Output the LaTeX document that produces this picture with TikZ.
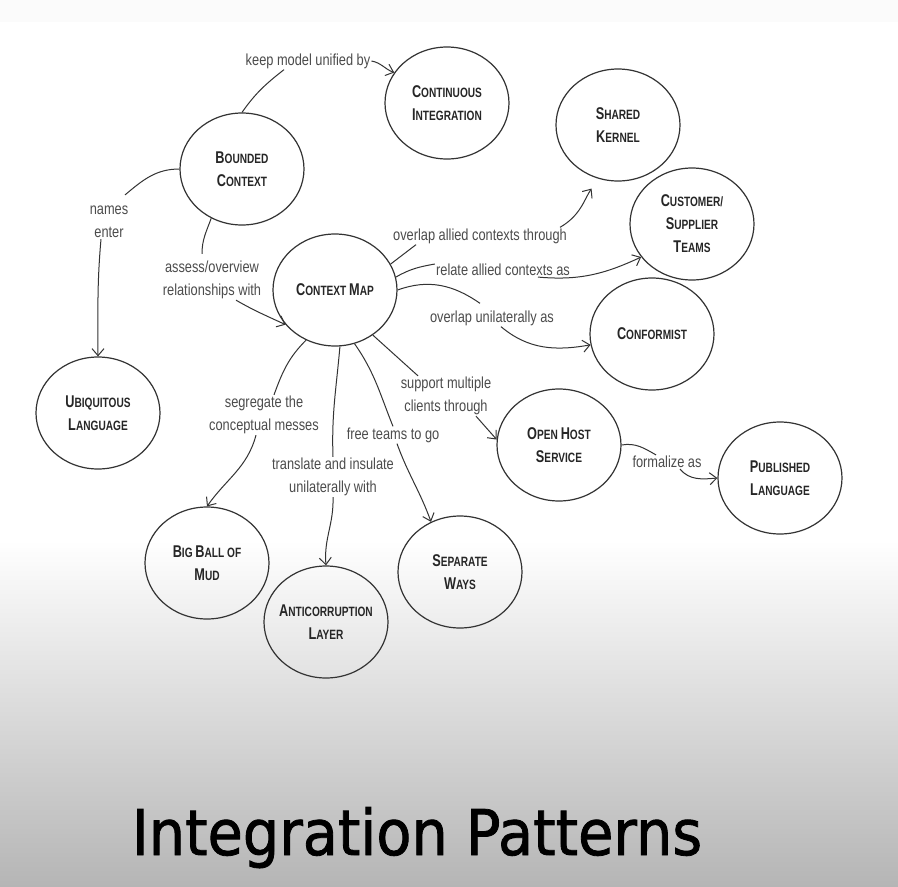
\documentclass[tikz,border=0pt]{standalone}
\usepackage{fontspec}
\usetikzlibrary{shapes.geometric,arrows.meta}

\newfontfamily\nodefont[FakeStretch=0.75]{Liberation Sans}
\newfontfamily\lblfont[FakeStretch=0.8]{Liberation Sans}
\newfontfamily\titlefont[FakeStretch=0.91,FakeBold=1.3]{DejaVu Sans}

% fake small caps: big first letter, small capitals after it
\newcommand\pc[2]{{\fontsize{17}{23}\selectfont #1}\MakeUppercase{#2}}

\begin{document}
\begin{tikzpicture}[x=1pt,y=1pt,
    ctx/.style={ellipse, draw=black!80, line width=1.2pt, minimum width=124pt,
      minimum height=112pt, inner sep=-8pt, align=center, text=black!85,
      font=\nodefont\bfseries\fontsize{13.5}{23}\selectfont},
    lbl/.style={inner sep=1pt, align=center, text=black!70,
      font=\lblfont\fontsize{16}{23}\selectfont},
    link/.style={draw=black!80, line width=1pt},
    arr/.style={link, -{Straight Barb[length=7pt,width=12pt]}}]

    % Fix the page and paint the background
    \useasboundingbox (0,0) rectangle (898,-887);
    \fill[white] (0,0) rectangle (898,-887);
    \fill[black!1.5] (0,0) rectangle (898,-22);
    \shade[top color=white, bottom color=black!29] (0,-540) rectangle (898,-887);

    % Draw the pattern nodes
    \node[ctx] (bc)  at (242,-169) {\pc{B}{ounded}\\\pc{C}{ontext}};
    \node[ctx] (ci)  at (447,-103) {\pc{C}{ontinuous}\\\pc{I}{ntegration}};
    \node[ctx] (sk)  at (618,-125) {\pc{S}{hared}\\\pc{K}{ernel}};
    \node[ctx] (cs)  at (692,-224) {\pc{C}{ustomer/}\\\pc{S}{upplier}\\\pc{T}{eams}};
    \node[ctx] (cf)  at (652,-334) {\pc{C}{onformist}};
    \node[ctx] (cm)  at (335,-290) {\pc{C}{ontext} \pc{M}{ap}};
    \node[ctx] (ul)  at (98,-413)  {\pc{U}{biquitous}\\\pc{L}{anguage}};
    \node[ctx] (ohs) at (559,-445) {\pc{O}{pen} \pc{H}{ost}\\\pc{S}{ervice}};
    \node[ctx] (pl)  at (780,-478) {\pc{P}{ublished}\\\pc{L}{anguage}};
    \node[ctx] (bb)  at (207,-563) {\pc{B}{ig} \pc{B}{all of}\\\pc{M}{ud}};
    \node[ctx] (acl) at (326,-622) {\pc{A}{nticorruption}\\\pc{L}{ayer}};
    \node[ctx] (sw)  at (460,-572) {\pc{S}{eparate}\\\pc{W}{ays}};

    % Add the connector labels
    \node[lbl] (keep)    at (308,-61)  {keep model unified by};
    \node[lbl] (names)   at (109,-222) {names\\enter};
    \node[lbl] (assess)  at (212,-280) {assess/overview\\relationships with};
    \node[lbl] (through) at (480,-236) {overlap allied contexts through};
    \node[lbl] (relate)  at (503,-270) {relate allied contexts as};
    \node[lbl] (unil)    at (492,-318) {overlap unilaterally as};
    \node[lbl] (support) at (446,-396) {support multiple\\clients through};
    \node[lbl] (formal)  at (667,-462) {formalize as};
    \node[lbl] (segr)    at (264,-415) {segregate the\\conceptual messes};
    \node[lbl] (trans)   at (333,-477) {translate and insulate\\unilaterally with};
    \node[lbl] (free)    at (393,-435) {free teams to go};

    % Bounded context links
    \draw[link] (bc.north) to[out=55,in=218] ([xshift=-24pt]keep.south);
    \draw[arr] (keep.east) to[out=-10,in=160] (ci.150);
    \draw[link] (bc.west) to[out=180,in=40] ([shift={(16pt,10pt)}]names.north);
    \draw[arr] ([xshift=-8pt]names.south) to[out=-95,in=90] (ul.north);
    \draw[link] (bc.238) to[out=250,in=90] ([shift={(-10pt,6pt)}]assess.north);
    \draw[arr] ([xshift=24pt]assess.south) to[out=-30,in=155] (cm.215);

    % Context map links to the right
    \draw[link] (cm.25) -- ([xshift=-64pt]through.south);
    \draw[arr, shorten >=12pt] ([xshift=80pt]through.north) to[out=30,in=235] (sk.250);
    \draw[link] (cm.12) to[out=30,in=190] ([yshift=6pt]relate.west);
    \draw[arr] ([xshift=35pt]relate.south) to[out=-5,in=205] (cs.213);
    \draw[link] (cm.east) to[out=20,in=145] ([shift={(-12pt,6pt)}]unil.north);
    \draw[arr] ([xshift=9pt]unil.south) to[out=-40,in=190] (cf.190);
    \draw[link] (cm.310) -- ([xshift=-28pt]support.north);
    \draw[arr] ([xshift=30pt]support.south) -- (ohs.175);
    \draw[link] (ohs.0) to[out=10,in=150] ([xshift=-11pt]formal.north);
    \draw[arr] ([xshift=13pt]formal.south) to[out=-50,in=185] (pl.west);

    % Context map links downwards
    \draw[link] (cm.240) to[out=225,in=70] ([xshift=10pt]segr.north);
    \draw[arr] ([xshift=-8pt]segr.south) to[out=-105,in=55] (bb.north);
    \draw[link] (cm.275) to[out=-95,in=92] (trans.north);
    \draw[arr] (trans.south) to[out=-88,in=95] (acl.north);
    \draw[link] (cm.290) to[out=-55,in=112] (free.north);
    \draw[arr] ([xshift=4pt]free.south) to[out=-70,in=110] (sw.120);

    % Title
    \node[anchor=base, font=\titlefont\fontsize{63}{63}\selectfont] (title) at (417,-855) {Integration Patterns};

\end{tikzpicture}
\end{document}
